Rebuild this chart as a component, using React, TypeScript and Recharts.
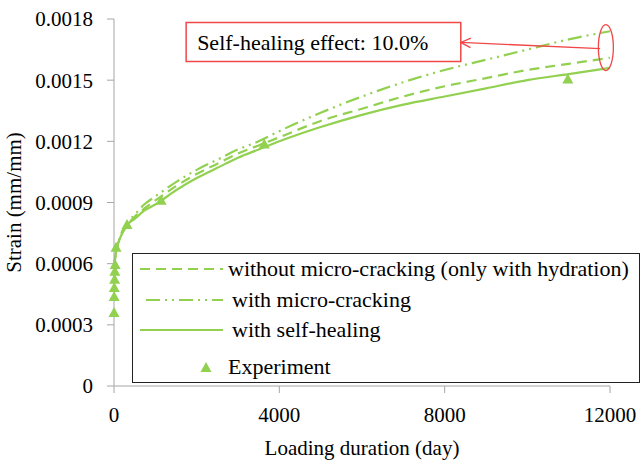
import React from "react";
import {
  ComposedChart,
  Line,
  Scatter,
  XAxis,
  YAxis,
  Legend,
  ReferenceArea,
  ReferenceLine,
  ReferenceDot,
} from "recharts";

document.body.style.margin = "0";

const GREEN = "#92D050";
const RED = "#F04848";
const AXIS = "#A6A6A6";
const FONT = "Liberation Serif, Tinos, serif";
const FS = 21;
const FS_BOX = 22;

// model curves (day -> strain)
const days = [7, 28, 60, 100, 200, 365, 500, 730, 1000, 1500, 2000, 2500, 3000, 3500, 4000, 5000, 6000, 7000, 8000, 9000, 10000, 11000, 12000];
const withoutCracking = [0.00059, 0.00063, 0.00067, 0.0007, 0.00075, 0.0008, 0.00083, 0.00087, 0.00091, 0.00098, 0.00104, 0.00109, 0.00114, 0.00118, 0.00122, 0.0013, 0.00136, 0.00142, 0.00147, 0.00151, 0.00155, 0.00158, 0.00161];
const withCracking = [0.00059, 0.00063, 0.00067, 0.0007, 0.00076, 0.00081, 0.00084, 0.00089, 0.00093, 0.001, 0.00106, 0.00111, 0.00116, 0.0012, 0.00125, 0.00134, 0.00142, 0.00149, 0.00155, 0.0016, 0.00165, 0.0017, 0.00174];
const selfHealing = [0.00059, 0.00063, 0.00067, 0.0007, 0.00075, 0.0008, 0.00082, 0.00086, 0.00089, 0.00096, 0.00102, 0.00107, 0.00112, 0.00116, 0.0012, 0.00127, 0.00133, 0.00138, 0.00142, 0.00146, 0.0015, 0.00153, 0.00156];

// experiment
const expDays = [1, 3, 7, 14, 21, 28, 50, 315, 1140, 3636, 10980];
const expStrain = [0.000358, 0.000437, 0.000481, 0.000521, 0.00056, 0.000594, 0.000678, 0.00079, 0.000909, 0.001184, 0.001503];

const xTicks = [0, 4000, 8000, 12000];
const yTicks = [0, 0.0003, 0.0006, 0.0009, 0.0012, 0.0015, 0.0018];

const legendItems = [
  { label: "without micro-cracking (only with hydration)", dash: "10 6", kind: "line" },
  { label: "with micro-cracking", dash: "14 5 2 5 2 5", kind: "line" },
  { label: "with self-healing", dash: undefined, kind: "line" },
  { label: "Experiment", dash: undefined, kind: "marker" },
];

const curveData = days.map((d, i) => ({
  day: d,
  without: withoutCracking[i],
  cracking: withCracking[i],
  healing: selfHealing[i],
}));

const expData = expDays.map((d, i) => ({ day: d, strain: expStrain[i] }));

const Triangle = (props: any) => {
  const { cx, cy } = props;
  if (cx == null || cy == null) return null;
  return (
    <polygon
      points={`${cx},${cy - 6} ${cx - 5.5},${cy + 4} ${cx + 5.5},${cy + 4}`}
      fill={GREEN}
    />
  );
};

const ArrowShape = (props: any) => {
  const { x1, y1, x2, y2 } = props;
  if (x1 == null) return null;
  const ang = Math.atan2(y2 - y1, x2 - x1);
  const len = 11;
  const spread = 0.45;
  const ax = x2 - len * Math.cos(ang - spread);
  const ay = y2 - len * Math.sin(ang - spread);
  const bx = x2 - len * Math.cos(ang + spread);
  const by = y2 - len * Math.sin(ang + spread);
  return (
    <g stroke={RED} strokeWidth={1.3} fill="none">
      <line x1={x1} y1={y1} x2={x2} y2={y2} />
      <polyline points={`${ax},${ay} ${x2},${y2} ${bx},${by}`} />
    </g>
  );
};

const EllipseShape = (props: any) => {
  const { cx, cy } = props;
  if (cx == null) return null;
  return <ellipse cx={cx} cy={cy} rx={7.5} ry={23} fill="none" stroke={RED} strokeWidth={1.3} />;
};

const LegendBox = () => (
  <div
    style={{
      width: 506,
      height: 128,
      border: "1.5px solid #222",
      background: "#fff",
      fontFamily: FONT,
      fontSize: FS_BOX,
      color: "#000",
      position: "relative",
    }}
  >
    {legendItems.map((it, i) => {
      const rowTop = [2, 33, 63, 100][i];
      return (
        <div
          key={it.label}
          style={{ position: "absolute", left: 0, top: rowTop, height: 26, display: "flex", alignItems: "center" }}
        >
          <svg width={95} height={26}>
            {it.kind === "line" ? (
              <line x1={i === 1 ? 13 : 7} y1={13} x2={90} y2={13} stroke={GREEN} strokeWidth={2.2} strokeDasharray={it.dash} />
            ) : (
              <Triangle cx={73} cy={14} />
            )}
          </svg>
          <span style={{ whiteSpace: "nowrap", marginLeft: i === 1 || i === 2 ? 4 : 0 }}>{it.label}</span>
        </div>
      );
    })}
  </div>
);

export default function App() {
  return (
    <ComposedChart
      width={641}
      height={464}
      data={curveData}
      margin={{ top: 19, right: 31, bottom: 0, left: 0 }}
      style={{ fontFamily: FONT }}
    >
      <XAxis
        dataKey="day"
        type="number"
        domain={[0, 12000]}
        ticks={xTicks}
        height={78}
        stroke={AXIS}
        tickSize={7}
        tickMargin={14}
        tick={{ fill: "#000", fontSize: FS, fontFamily: FONT }}
        label={{
          value: "Loading duration (day)",
          content: (p: any) => (
            <text
              x={p.viewBox.x + p.viewBox.width / 2}
              y={p.viewBox.y + 62}
              textAnchor="middle"
              dominantBaseline="central"
              fontSize={FS}
              fontFamily={FONT}
              fill="#000"
            >
              Loading duration (day)
            </text>
          ),
        }}
      />
      <YAxis
        type="number"
        domain={[0, 0.0018]}
        ticks={yTicks}
        width={114}
        stroke={AXIS}
        tickSize={7}
        tickMargin={14}
        tickFormatter={(v: number) => (v === 0 ? "0" : v.toFixed(4))}
        tick={{ fill: "#000", fontSize: FS, fontFamily: FONT }}
        label={{
          value: "Strain (mm/mm)",
          content: (p: any) => {
            const x = p.viewBox.x + 14;
            const y = p.viewBox.y + p.viewBox.height / 2;
            return (
              <text
                x={x}
                y={y}
                transform={`rotate(-90 ${x} ${y})`}
                textAnchor="middle"
                dominantBaseline="central"
                fontSize={FS}
                fontFamily={FONT}
                fill="#000"
              >
                Strain (mm/mm)
              </text>
            );
          },
        }}
      />
      <ReferenceArea
        x1={1745}
        x2={8390}
        y1={0.001591}
        y2={0.001783}
        fill="#fff"
        fillOpacity={1}
        stroke={RED}
        strokeWidth={1.5}
        label={{ value: "Self-healing effect: 10.0%", position: "insideLeft", offset: 11, fill: "#000", fontSize: FS_BOX, fontFamily: FONT }}
      />
      <Line
        dataKey="cracking"
        type="monotone"
        stroke={GREEN}
        strokeWidth={2.2}
        strokeDasharray="14 5 2 5 2 5"
        dot={false}
        isAnimationActive={false}
      />
      <Line
        dataKey="without"
        type="monotone"
        stroke={GREEN}
        strokeWidth={2.2}
        strokeDasharray="10 6"
        dot={false}
        isAnimationActive={false}
      />
      <Line
        dataKey="healing"
        type="monotone"
        stroke={GREEN}
        strokeWidth={2.2}
        dot={false}
        isAnimationActive={false}
      />
      <Scatter data={expData} dataKey="strain" shape={<Triangle />} isAnimationActive={false} />
      <ReferenceLine
        segment={[
          { x: 11760, y: 0.001655 },
          { x: 8390, y: 0.001685 },
        ]}
        shape={<ArrowShape />}
      />
      <ReferenceDot x={11900} y={0.00166} shape={<EllipseShape />} />
      <Legend
        layout="vertical"
        align="center"
        verticalAlign="middle"
        content={() => <LegendBox />}
        wrapperStyle={{ left: 132, top: 253, width: 508, height: 130 }}
      />
    </ComposedChart>
  );
}
